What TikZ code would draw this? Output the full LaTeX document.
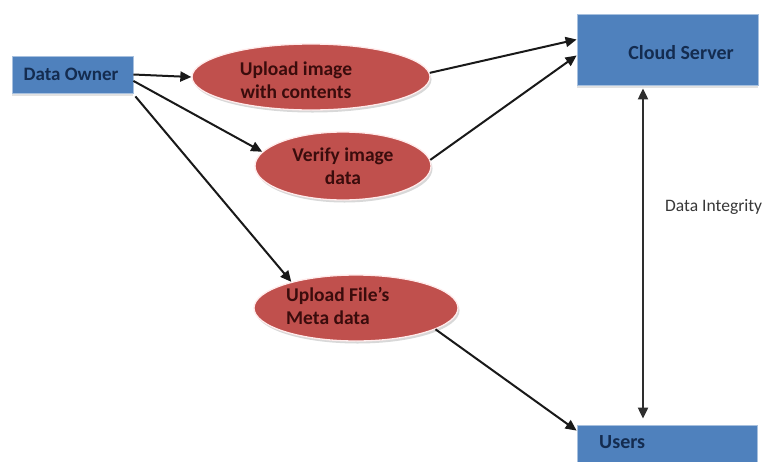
\documentclass[tikz,border=0pt]{standalone}
\usepackage{fontspec}
\setmainfont{Carlito}
\usetikzlibrary{arrows.meta,shapes.geometric,shadows,calc}
\definecolor{boxblue}{HTML}{4F81BD}
\definecolor{boxedge}{HTML}{A7C0DE}
\definecolor{boxtext}{HTML}{142C50}
\definecolor{ucred}{HTML}{C0504D}
\definecolor{uctext}{HTML}{3A0C0C}
\begin{document}
\begin{tikzpicture}[x=1pt,y=-1pt,
  box/.style={rectangle, fill=boxblue, draw=boxedge, line width=0.8pt,
    drop shadow={shadow xshift=0pt, shadow yshift=-3pt, fill=black!22},
    inner sep=0pt},
  boxlabel/.style={text=boxtext, font=\bfseries\fontsize{20}{23}\selectfont, inner sep=0pt},
  usecase/.style={ellipse, fill=ucred, draw=red!8!white, line width=1.3pt,
    drop shadow={shadow xshift=1.5pt, shadow yshift=-2.5pt, fill=black!30},
    inner sep=0pt, text=uctext, align=center,
    font=\bfseries\fontsize{19.5}{22.5}\selectfont},
  uclabel/.style={text=uctext, font=\bfseries\fontsize{19.5}{22.5}\selectfont, inner sep=0pt},
  conn/.style={line width=2pt, draw=black!90, -{Triangle[length=11pt,width=10pt]}},
  both/.style={line width=2pt, draw=black!82, {Triangle[length=11pt,width=10pt]}-{Triangle[length=11pt,width=10pt]}}
]
\useasboundingbox (0,0) rectangle (770,461);
\clip (0,0) rectangle (770,461);
\fill[white] (0,0) rectangle (770,461);

% actors and server
\node[box, minimum width=121pt, minimum height=37pt] (owner) at (72.5,74.5) {};
\node[boxlabel, font=\bfseries\fontsize{19}{22}\selectfont] (ownerlabel) at (71,74) {Data Owner};
\node[box, minimum width=181pt, minimum height=71pt] (cloud) at (667.5,49.5) {};
\node[boxlabel] (cloudlabel) at (681,53) {Cloud Server};
\node[box, minimum width=180pt, minimum height=45pt] (users) at (667,447.5) {};
\node[boxlabel, anchor=west] (userslabel) at (599,442) {Users};

% use cases
\node[usecase, minimum width=238pt, minimum height=66pt] (up) at (311,77) {};
\node[uclabel, align=center] (uplabel) at (296,80) {Upload image\\with contents};
\node[usecase, minimum width=176pt, minimum height=68pt] (verify) at (343,166) {Verify image\\data};
\node[usecase, minimum width=204pt, minimum height=66pt] (meta) at (356,308) {};
\node[uclabel, align=left, anchor=west] (metalabel) at (286,306) {Upload File’s\\Meta data};

% connectors
\draw[conn] (owner.east) -- (up.west);
\draw[conn] (owner.-6) -- (verify.170);
\draw[conn] ($(owner.south east)+(2,3)$) -- (meta.158);
\draw[conn] (up.2) -- ($(cloud.west)+(0,-10)$);
\draw[conn] (verify.4) -- ($(cloud.west)+(0,6)$);
\draw[conn] (meta.-15) -- ($(users.north west)+(0,6)$);

\coordinate (axis) at (643,0);
\draw[both, shorten <=3pt, shorten >=6pt] (cloud.south -| axis) -- (users.north -| axis);
\node[text=black!78, font=\fontsize{17.5}{20}\selectfont, anchor=west, inner sep=0pt] (integrity) at (665,207) {Data Integrity};
\end{tikzpicture}
\end{document}
